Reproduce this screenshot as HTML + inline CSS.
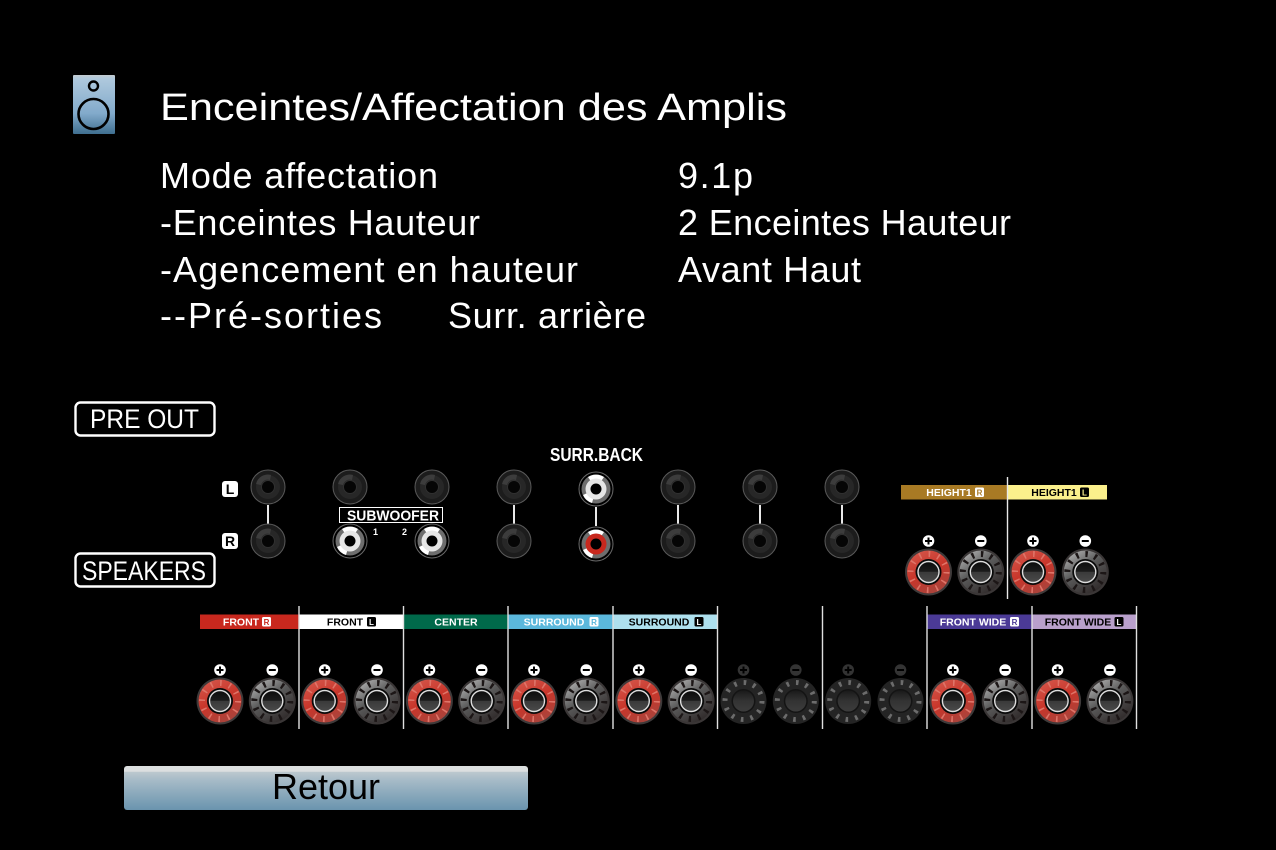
<!DOCTYPE html>
<html><head><meta charset="utf-8"><style>
html,body{margin:0;padding:0;background:#000;width:1276px;height:850px;overflow:hidden}
svg{display:block}
text{font-family:"Liberation Sans",sans-serif}
.t{font-size:36px;fill:#fff}
.lb{font-size:10.5px;font-weight:bold;text-anchor:middle}
</style></head><body>
<svg width="1276" height="850" viewBox="0 0 1276 850" xmlns="http://www.w3.org/2000/svg">
<defs>
<linearGradient id="ic" x1="0" y1="0" x2="0" y2="1"><stop offset="0" stop-color="#c4ccd0"/><stop offset=".06" stop-color="#afc9dd"/><stop offset=".65" stop-color="#82aacb"/><stop offset="1" stop-color="#3f6f90"/></linearGradient>
<linearGradient id="btn" x1="0" y1="0" x2="0" y2="1"><stop offset="0" stop-color="#dcdfe0"/><stop offset=".12" stop-color="#dcdfe0"/><stop offset=".14" stop-color="#bcc8ce"/><stop offset=".3" stop-color="#a8bcc8"/><stop offset="1" stop-color="#6a94ae"/></linearGradient>
<linearGradient id="red" x1=".2" y1="0" x2=".7" y2="1"><stop offset="0" stop-color="#d4564a"/><stop offset=".5" stop-color="#c8352a"/><stop offset="1" stop-color="#a8443c"/></linearGradient>
<linearGradient id="gr" x1=".1" y1="0" x2=".8" y2="1"><stop offset="0" stop-color="#b8b8b8"/><stop offset=".45" stop-color="#5a5a5a"/><stop offset="1" stop-color="#2c2626"/></linearGradient>
<linearGradient id="hole" x1="0" y1="0" x2="0" y2="1"><stop offset="0" stop-color="#0c0c0c"/><stop offset=".48" stop-color="#1c1c1c"/><stop offset=".5" stop-color="#3a3a3a"/><stop offset="1" stop-color="#4a4a4a"/></linearGradient>
<linearGradient id="hole2" x1="0" y1="0" x2="0" y2="1"><stop offset="0" stop-color="#1a1a1a"/><stop offset=".5" stop-color="#333"/><stop offset="1" stop-color="#3c3c3c"/></linearGradient>

<g id="kr">
<circle r="23.5" fill="#3e3a3a"/><circle r="21.5" fill="url(#red)"/>
<circle r="18" fill="none" stroke="#de7468" stroke-width="6" stroke-dasharray="1.6 7.82"/>
<circle r="13" fill="#0a0a0a"/><circle r="10.5" fill="url(#hole)" stroke="#ddd" stroke-width="1.4"/>
</g>
<g id="kg">
<circle r="23.5" fill="#3a3636"/><circle r="21.5" fill="url(#gr)"/>
<circle r="18" fill="none" stroke="#1c1616" stroke-width="6" stroke-dasharray="2.4 7.02"/>
<circle r="13" fill="#0a0a0a"/><circle r="10.5" fill="url(#hole)" stroke="#ddd" stroke-width="1.4"/>
</g>
<g id="kd">
<circle r="23" fill="#242424"/>
<circle r="18.5" fill="none" stroke="#6c6c6c" stroke-width="5" stroke-dasharray="2.6 7.09"/>
<circle r="12" fill="#141414"/>
<circle r="10.5" fill="url(#hole2)"/>
</g>
<g id="jack">
<circle r="17" fill="#1c1c1c" stroke="#5a5a5a" stroke-width="1"/>
<circle r="12" fill="#272727"/><path d="M-12 -3A12 12 0 0 1 3 -12L2 -7A7 7 0 0 0 -7 -2Z" fill="#3c3c3c"/>
<circle r="6.5" fill="#050505" stroke="#303030" stroke-width="1"/>
</g>
<g id="rw">
<circle r="17" fill="#000" stroke="#6a6a6a" stroke-width="1"/>
<circle r="14.500" fill="#6e6e6e"/><path d="M-8 -12A14.500 14.500 0 0 1 8 -12L0 0Z" fill="#fff"/><path d="M-13 6A14.500 14.500 0 0 0 -4 14L0 0Z" fill="#fff"/>
<circle r="10.5" fill="#e6e6e6"/><circle r="5.5" fill="#000"/>
</g>
<g id="rr">
<circle r="17" fill="#000" stroke="#6a6a6a" stroke-width="1"/>
<circle r="14.500" fill="#6e6e6e"/><path d="M-8 -12A14.500 14.500 0 0 1 8 -12L0 0Z" fill="#fff"/><path d="M-13 6A14.500 14.500 0 0 0 -4 14L0 0Z" fill="#fff"/>
<circle r="10.5" fill="#c8281e"/><circle r="5.5" fill="#000"/>
</g>
<g id="plus"><circle r="5.8" fill="#fff"/><path d="M-3.5 0H3.5M0 -3.5V3.5" stroke="#000" stroke-width="2"/></g>
<g id="minus"><circle r="5.8" fill="#fff"/><path d="M-3.5 0H3.5" stroke="#000" stroke-width="2"/></g>
<g id="pd"><circle r="5.8" fill="#333"/><path d="M-3.5 0H3.5M0 -3.5V3.5" stroke="#000" stroke-width="2"/></g>
<g id="md"><circle r="5.8" fill="#333"/><path d="M-3.5 0H3.5" stroke="#000" stroke-width="2"/></g>
<g id="pair">
<use href="#plus" x="0" y="-31"/><use href="#minus" x="52.3" y="-31"/>
<use href="#kr"/><use href="#kg" x="52.3"/>
</g>
<g id="paird">
<use href="#pd" x="0" y="-31"/><use href="#md" x="52.3" y="-31"/>
<use href="#kd"/><use href="#kd" x="52.3"/>
</g>
</defs>

<rect width="1276" height="850" fill="#000"/>

<!-- speaker icon -->
<rect x="73" y="75" width="42" height="59" rx="1" fill="url(#ic)"/>
<circle cx="93.500" cy="86" r="4.5" fill="none" stroke="#000" stroke-width="2.4"/>
<circle cx="93.500" cy="114" r="15" fill="none" stroke="#000" stroke-width="2.6"/>

<!-- text -->
<text x="160" y="120" font-size="38" fill="#fff" textLength="627" lengthAdjust="spacingAndGlyphs">Enceintes/Affectation des Amplis</text>
<text class="t" x="160" y="188" textLength="278">Mode affectation</text>
<text class="t" x="678" y="188" textLength="75">9.1p</text>
<text class="t" x="160" y="235" textLength="320">-Enceintes Hauteur</text>
<text class="t" x="678" y="235" textLength="333">2 Enceintes Hauteur</text>
<text class="t" x="160" y="282" textLength="418">-Agencement en hauteur</text>
<text class="t" x="678" y="282" textLength="183">Avant Haut</text>
<text class="t" x="160" y="328" textLength="222">--Pré-sorties</text>
<text class="t" x="448" y="328" textLength="198">Surr. arrière</text>

<!-- tags -->
<rect x="75.5" y="402.5" width="139" height="33" rx="5" fill="#000" stroke="#fff" stroke-width="2.4"/>
<text x="90" y="428" font-size="27" fill="#fff" textLength="109" lengthAdjust="spacingAndGlyphs">PRE OUT</text>
<rect x="75.5" y="553.5" width="139" height="33" rx="5" fill="#000" stroke="#fff" stroke-width="2.4"/>
<text x="82" y="580" font-size="27" fill="#fff" textLength="124" lengthAdjust="spacingAndGlyphs">SPEAKERS</text>

<!-- L R -->
<rect x="222" y="481" width="16" height="16" rx="3" fill="#fff"/>
<text x="230" y="494" font-size="14" font-weight="bold" text-anchor="middle" fill="#000">L</text>
<rect x="222" y="533" width="16" height="16" rx="3" fill="#fff"/>
<text x="230" y="546" font-size="14" font-weight="bold" text-anchor="middle" fill="#000">R</text>

<!-- pre-out jacks -->
<g stroke="#e8e8e8" stroke-width="2">
<path d="M268 505V524M514 505V524M596 507V526M678 505V524M760 505V524M842 505V524"/>
</g>
<use href="#jack" x="268" y="487"/><use href="#jack" x="268" y="541"/>
<use href="#jack" x="350" y="487"/><use href="#jack" x="432" y="487"/>
<use href="#rw" x="350" y="541"/><use href="#rw" x="432" y="541"/>
<rect x="339.5" y="507.5" width="103" height="15" fill="#000" stroke="#fff" stroke-width="1"/>
<text x="347" y="520.5" font-size="15" font-weight="bold" fill="#fff" textLength="92" lengthAdjust="spacingAndGlyphs">SUBWOOFER</text>
<text x="375.5" y="535" font-size="9" font-weight="bold" fill="#fff" text-anchor="middle">1</text>
<text x="404.5" y="535" font-size="9" font-weight="bold" fill="#fff" text-anchor="middle">2</text>
<use href="#jack" x="514" y="487"/><use href="#jack" x="514" y="541"/>
<text x="550" y="461" font-size="18" font-weight="bold" fill="#fff" textLength="93" lengthAdjust="spacingAndGlyphs">SURR.BACK</text>
<use href="#rw" x="596" y="489"/><use href="#rr" x="596" y="544"/>
<use href="#jack" x="678" y="487"/><use href="#jack" x="678" y="541"/>
<use href="#jack" x="760" y="487"/><use href="#jack" x="760" y="541"/>
<use href="#jack" x="842" y="487"/><use href="#jack" x="842" y="541"/>

<!-- height -->
<rect x="901" y="485" width="106" height="14.5" fill="#a87a24"/>
<rect x="1007" y="485" width="100" height="14.5" fill="#fbf08c"/>
<text class="lb" x="949" y="496" fill="#fff">HEIGHT1</text>
<rect x="975" y="487.5" width="9" height="9.5" rx="1.5" fill="#fff"/><text x="979.5" y="495.5" font-size="8" font-weight="bold" text-anchor="middle" fill="#a87a24">R</text>
<text class="lb" x="1054" y="496" fill="#000">HEIGHT1</text>
<rect x="1080" y="487.5" width="9" height="9.5" rx="1.5" fill="#000"/><text x="1084.5" y="495.5" font-size="8" font-weight="bold" text-anchor="middle" fill="#fbf08c">L</text>
<path d="M1007.5 477V599" stroke="#e8e8e8" stroke-width="1.4"/>
<use href="#pair" x="928.5" y="572"/><use href="#pair" x="1033" y="572"/>

<!-- speaker labels -->
<rect x="200" y="614.5" width="99" height="14.5" fill="#c8281e"/>
<rect x="299" y="614.5" width="105" height="14.5" fill="#fff"/>
<rect x="404" y="614.5" width="104.500" height="14.5" fill="#00694a"/>
<rect x="508.500" y="614.5" width="104.500" height="14.5" fill="#5bb8dc"/>
<rect x="613" y="614.5" width="104.500" height="14.5" fill="#aee0ee"/>
<rect x="927" y="614.5" width="105" height="14.5" fill="#4b3a96"/>
<rect x="1032" y="614.5" width="104.500" height="14.5" fill="#b9a0cc"/>

<text class="lb" x="241" y="625.5" fill="#fff">FRONT</text>
<rect x="262" y="617" width="9" height="9.5" rx="1.5" fill="#fff"/><text x="266.500" y="625" font-size="8" font-weight="bold" text-anchor="middle" fill="#c8281e">R</text>
<text class="lb" x="345" y="625.5" fill="#000">FRONT</text>
<rect x="367" y="617" width="9" height="9.5" rx="1.500" fill="#000"/><text x="371.5" y="625" font-size="8" font-weight="bold" text-anchor="middle" fill="#fff">L</text>
<text class="lb" x="456" y="625.5" fill="#fff">CENTER</text>
<text class="lb" x="554" y="625.5" fill="#fff">SURROUND</text>
<rect x="589.500" y="617" width="9" height="9.5" rx="1.5" fill="#fff"/><text x="594" y="625" font-size="8" font-weight="bold" text-anchor="middle" fill="#5bb8dc">R</text>
<text class="lb" x="659" y="625.5" fill="#000">SURROUND</text>
<rect x="694.500" y="617" width="9" height="9.5" rx="1.5" fill="#000"/><text x="699" y="625" font-size="8" font-weight="bold" text-anchor="middle" fill="#fff">L</text>
<text class="lb" x="973" y="625.5" fill="#fff">FRONT WIDE</text>
<rect x="1010" y="617" width="9" height="9.5" rx="1.5" fill="#fff"/><text x="1014.5" y="625" font-size="8" font-weight="bold" text-anchor="middle" fill="#4b3a96">R</text>
<text class="lb" x="1078" y="625.5" fill="#000">FRONT WIDE</text>
<rect x="1114.500" y="617" width="9" height="9.5" rx="1.5" fill="#000"/><text x="1119" y="625" font-size="8" font-weight="bold" text-anchor="middle" fill="#fff">L</text>

<!-- dividers -->
<path d="M299 606V729M403.500 606V729M508 606V729M613 606V729M717.500 606V729M822.500 606V729M927 606V729M1032 606V729M1136.500 606V729" stroke="#e0e0e0" stroke-width="1.4"/>

<!-- speaker knobs -->
<use href="#pair" x="220" y="701"/>
<use href="#pair" x="324.700" y="701"/>
<use href="#pair" x="429.400" y="701"/>
<use href="#pair" x="534" y="701"/>
<use href="#pair" x="638.800" y="701"/>
<use href="#paird" x="743.500" y="701"/>
<use href="#paird" x="848.200" y="701"/>
<use href="#pair" x="952.900" y="701"/>
<use href="#pair" x="1057.600" y="701"/>

<!-- button -->
<rect x="124" y="766" width="404" height="44" rx="3" fill="url(#btn)"/>
<text x="272" y="799" font-size="36" fill="#000" textLength="108">Retour</text>
</svg>
</body></html>
